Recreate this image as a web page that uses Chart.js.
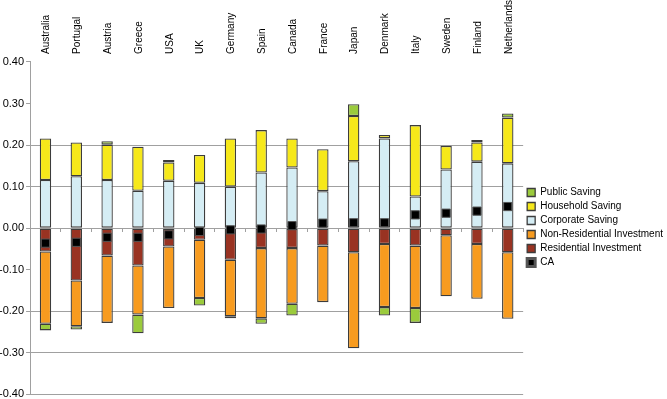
<!DOCTYPE html>
<html>
<head>
<meta charset="utf-8">
<script src="https://cdn.jsdelivr.net/npm/chart.js@4"></script>
<style>
  html, body { margin: 0; background: #fff; overflow: hidden; }
  #wrap { width: 667px; height: 403px; }
</style>
</head>
<body>
<div id="wrap"><canvas id="savingChart"></canvas></div>
<script>
  // Saving and investment components by country (share of GDP)
  const countries = ["Australia", "Portugal", "Austria", "Greece", "USA", "UK", "Germany", "Spain",
                     "Canada", "France", "Japan", "Denmark", "Italy", "Sweden", "Finland", "Netherlands"];
  const corporateSaving = [0.116, 0.125, 0.116, 0.090, 0.114, 0.109, 0.100, 0.134, 0.146, 0.089, 0.161, 0.216, 0.076, 0.141, 0.160, 0.156];
  const householdSaving = [0.100, 0.081, 0.085, 0.106, 0.044, 0.067, 0.116, 0.102, 0.070, 0.101, 0.109, 0.008, 0.172, 0.057, 0.046, 0.110];
  const publicSaving = [-0.016, -0.008, 0.008, -0.045, 0.006, -0.018, -0.005, -0.013, -0.028, 0.000, 0.028, -0.020, -0.036, 0.000, 0.006, 0.010];
  const residentialInv = [-0.056, -0.126, -0.066, -0.090, -0.044, -0.028, -0.076, -0.048, -0.048, -0.042, -0.058, -0.038, -0.042, -0.017, -0.038, -0.058];
  const nonResidentialInv = [-0.174, -0.110, -0.162, -0.118, -0.148, -0.140, -0.136, -0.169, -0.134, -0.136, -0.231, -0.152, -0.150, -0.147, -0.132, -0.160];
  const currentAccount = [-0.036, -0.034, -0.022, -0.022, -0.016, -0.008, -0.004, -0.002, 0.006, 0.012, 0.013, 0.013, 0.032, 0.036, 0.041, 0.052];
  const legendOrder = ["Public Saving", "Household Saving", "Corporate Saving", "Non-Residential Investment", "Residential Investment", "CA"];
  const hiddenGridValues = [0.3, 0.4, -0.1];

  Chart.defaults.font.family = "'Liberation Sans', Arial, sans-serif";
  Chart.defaults.color = "#000";

  const barBorder = "#3c3c3c";
  function barSet(label, data, color) {
    return {
      type: "bar",
      label: label,
      data: data,
      backgroundColor: color,
      borderColor: barBorder,
      borderWidth: 1.3,
      borderSkipped: false,
      barPercentage: 0.37,
      categoryPercentage: 1.0
    };
  }

  const ctx = document.getElementById("savingChart").getContext("2d");
  new Chart(ctx, {
    data: {
      labels: countries,
      datasets: [
        {
          type: "line",
          label: "CA",
          data: currentAccount,
          stack: "ca",
          showLine: false,
          pointStyle: "rect",
          pointRadius: 5.8,
          pointHoverRadius: 5.8,
          backgroundColor: "#000",
          borderColor: "#555",
          pointBorderWidth: 1
        },
        barSet("Corporate Saving", corporateSaving, "#d5edf4"),
        barSet("Residential Investment", residentialInv, "#993322"),
        barSet("Household Saving", householdSaving, "#f6e81a"),
        barSet("Non-Residential Investment", nonResidentialInv, "#f79b1f"),
        barSet("Public Saving", publicSaving, "#9bcb3c")
      ]
    },
    options: {
      responsive: true,
      maintainAspectRatio: false,
      animation: false,
      layout: { padding: { top: -8, right: -6, bottom: 4, left: -3 } },
      plugins: {
        tooltip: { enabled: false },
        legend: {
          position: "right",
          // blank title just pushes the items down next to the zero line
          title: { display: true, text: " ", font: { size: 10 }, padding: { top: 26, bottom: 26 } },
          labels: {
            boxWidth: 8,
            boxHeight: 8,
            padding: 4,
            font: { size: 10 },
            sort: (a, b) => legendOrder.indexOf(a.text) - legendOrder.indexOf(b.text)
          }
        }
      },
      scales: {
        x: {
          type: "category",
          position: "top",
          offset: true,
          stacked: true,
          grid: { display: false, drawTicks: false },
          border: { display: false },
          ticks: { autoSkip: false, maxRotation: 90, minRotation: 90, padding: 8, labelOffset: 13, font: { size: 10 } }
        },
        // zero line with small ticks between countries
        xZero: {
          type: "category",
          position: { y: 0 },
          offset: true,
          grid: { drawOnChartArea: false, offset: true, tickLength: 3, color: "#a0a0a0" },
          border: { display: true, color: "#a0a0a0" },
          ticks: { display: false }
        },
        y: {
          stacked: true,
          min: -0.4,
          max: 0.4,
          ticks: {
            stepSize: 0.1,
            padding: 2,
            font: { size: 11 },
            callback: v => v.toFixed(2)
          },
          grid: {
            tickLength: 4,
            tickColor: "#a0a0a0",
            color: c => hiddenGridValues.some(h => Math.abs(c.tick.value - h) < 1e-6) ? "rgba(0,0,0,0)" : "#a0a0a0"
          },
          border: { display: true, color: "#a0a0a0" }
        }
      }
    }
  });
</script>
</body>
</html>
